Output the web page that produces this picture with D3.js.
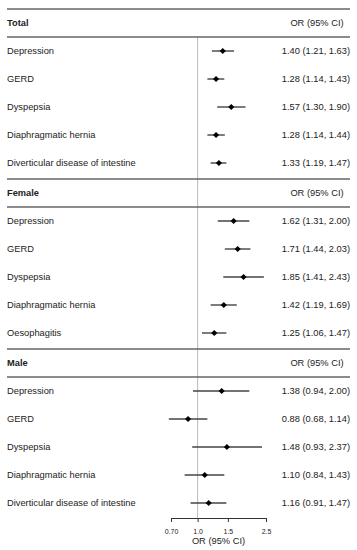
<!DOCTYPE html>
<html lang="en">
  <head>
    <meta charset="UTF-8" />
    <title>forest plot - d3</title>
    <script src="https://d3js.org/d3.v7.min.js"></script>
  </head>
  <style>
    html,
    body {
      margin: 0;
      padding: 0;
      background: #fff;
    }
    svg text {
      font-family: "Liberation Sans", Arial, sans-serif;
      fill: #222;
    }
  </style>
  <body>
    <script>
      // 数据
      var sections = ["Total", "Female", "Male"];

      var totalLabels = ["Depression", "GERD", "Dyspepsia", "Diaphragmatic hernia", "Diverticular disease of intestine"];
      var totalOR = [1.4, 1.28, 1.57, 1.28, 1.33];
      var totalLo = [1.21, 1.14, 1.3, 1.14, 1.19];
      var totalHi = [1.63, 1.43, 1.9, 1.44, 1.47];

      var femaleLabels = ["Depression", "GERD", "Dyspepsia", "Diaphragmatic hernia", "Oesophagitis"];
      var femaleOR = [1.62, 1.71, 1.85, 1.42, 1.25];
      var femaleLo = [1.31, 1.44, 1.41, 1.19, 1.06];
      var femaleHi = [2.0, 2.03, 2.43, 1.69, 1.47];

      var maleLabels = ["Depression", "GERD", "Dyspepsia", "Diaphragmatic hernia", "Diverticular disease of intestine"];
      var maleOR = [1.38, 0.88, 1.48, 1.1, 1.16];
      var maleLo = [0.94, 0.68, 0.93, 0.84, 0.91];
      var maleHi = [2.0, 1.14, 2.37, 1.43, 1.47];

      var tickValues = [0.7, 1.0, 1.5, 2.5];
      var tickLabels = ["0.70", "1.0", "1.5", "2.5"];

      var groups = [
        { labels: totalLabels, or: totalOR, lo: totalLo, hi: totalHi },
        { labels: femaleLabels, or: femaleOR, lo: femaleLo, hi: femaleHi },
        { labels: maleLabels, or: maleOR, lo: maleLo, hi: maleHi },
      ];

      var width = 357,
        height = 550;
      var left = 7,
        right = 350;
      var sectionTop = 9,
        sectionH = 170,
        rowH = 28;
      var fs = 9.3;

      var svg = d3.select("body").append("svg").attr("width", width).attr("height", height);

      // 比例尺 (log)
      var x = d3.scaleLog().domain([0.7, 2.5]).range([171, 266]);

      function secTop(s) {
        return sectionTop + s * sectionH;
      }
      // k = 0 表头, 1..5 数据行
      function rowY(s, k) {
        return secTop(s) + 14 + rowH * k;
      }

      var axisY = rowY(2, 5) + 15;

      // 参考线 OR = 1
      svg
        .append("line")
        .attr("x1", x(1))
        .attr("x2", x(1))
        .attr("y1", secTop(0) + rowH)
        .attr("y2", axisY)
        .attr("stroke", "#bbb")
        .attr("stroke-width", 1);

      // 横线
      var hlines = [];
      sections.forEach(function (name, s) {
        hlines.push(secTop(s), secTop(s) + rowH);
      });
      svg
        .selectAll("line.sep")
        .data(hlines)
        .enter()
        .append("line")
        .attr("class", "sep")
        .attr("x1", left)
        .attr("x2", right)
        .attr("y1", function (d) { return d; })
        .attr("y2", function (d) { return d; })
        .attr("stroke", "#666")
        .attr("stroke-width", 1.6);

      var fmt = d3.format(".2f");
      var diamond = d3.symbol().type(d3.symbolSquare).size(19);

      groups.forEach(function (g, s) {
        var sec = svg.append("g");

        sec
          .append("text")
          .attr("x", left)
          .attr("y", rowY(s, 0))
          .attr("dy", "0.35em")
          .attr("font-size", fs)
          .attr("font-weight", "bold")
          .text(sections[s]);

        sec
          .append("text")
          .attr("x", 317)
          .attr("y", rowY(s, 0))
          .attr("dy", "0.35em")
          .attr("font-size", fs)
          .attr("text-anchor", "middle")
          .text("OR (95% CI)");

        var rows = g.labels.map(function (l, i) {
          return { label: l, or: g.or[i], lo: g.lo[i], hi: g.hi[i], k: i + 1 };
        });

        var r = sec.selectAll("g.row").data(rows).enter().append("g").attr("class", "row");

        r.append("text")
          .attr("x", left)
          .attr("y", function (d) { return rowY(s, d.k); })
          .attr("dy", "0.35em")
          .attr("font-size", fs)
          .text(function (d) { return d.label; });

        r.append("text")
          .attr("x", right)
          .attr("y", function (d) { return rowY(s, d.k); })
          .attr("dy", "0.35em")
          .attr("font-size", fs)
          .attr("text-anchor", "end")
          .text(function (d) {
            return fmt(d.or) + " (" + fmt(d.lo) + ", " + fmt(d.hi) + ")";
          });

        r.append("line")
          .attr("x1", function (d) { return x(d.lo); })
          .attr("x2", function (d) { return x(d.hi); })
          .attr("y1", function (d) { return rowY(s, d.k); })
          .attr("y2", function (d) { return rowY(s, d.k); })
          .attr("stroke", "#444")
          .attr("stroke-width", 1.4);

        r.append("path")
          .attr("d", diamond)
          .attr("transform", function (d) {
            return "translate(" + x(d.or) + "," + rowY(s, d.k) + ") rotate(45)";
          })
          .attr("fill", "#000");
      });

      // 坐标轴
      var axis = d3
        .axisBottom(x)
        .tickValues(tickValues)
        .tickFormat(function (d, i) { return tickLabels[i]; })
        .tickSize(4)
        .tickSizeOuter(0);

      var ax = svg
        .append("g")
        .attr("class", "axis")
        .attr("transform", "translate(0," + axisY + ")")
        .call(axis);

      ax.select(".domain").attr("stroke", "#333").attr("stroke-width", 1);
      ax.selectAll(".tick line").attr("stroke", "#333");
      ax.selectAll(".tick text")
        .attr("font-size", 7)
        .attr("font-family", "Liberation Sans, Arial, sans-serif")
        .attr("fill", "#333")
        .attr("y", 11);

      svg
        .append("text")
        .attr("x", (x.range()[0] + x.range()[1]) / 2)
        .attr("y", axisY + 26)
        .attr("font-size", fs)
        .attr("text-anchor", "middle")
        .text("OR (95% CI)");
    </script>
  </body>
</html>
